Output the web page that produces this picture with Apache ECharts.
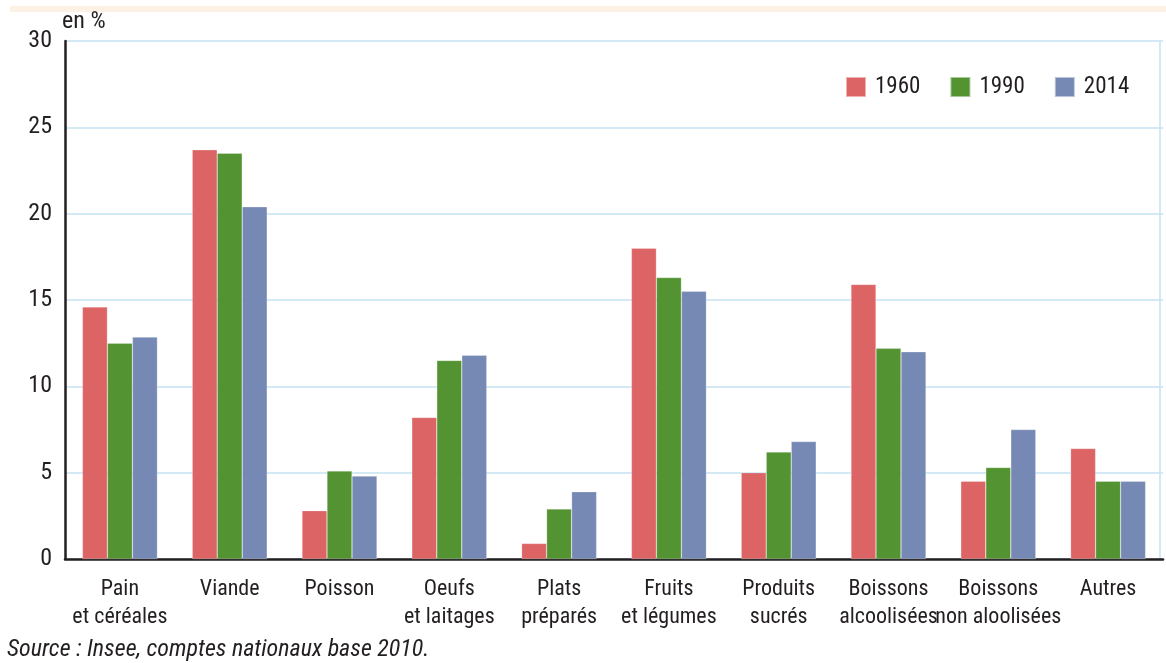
<!DOCTYPE html>
<html><head><meta charset="utf-8">
<script src="https://cdn.jsdelivr.net/npm/echarts@6/dist/echarts.min.js"></script>
<style>html,body{margin:0;padding:0;background:#fff}#c{width:1166px;height:663px}</style>
</head><body><div id="c"></div>
<script>
var categories = ['Pain\net céréales','Viande','Poisson','Oeufs\net laitages','Plats\npréparés','Fruits\net légumes','Produits\nsucrés','Boissons\nalcoolisées','Boissons\nnon aloolisées','Autres'];
var years = ['1960','1990','2014'];
var v1960 = [14.6, 23.7, 2.8, 8.2, 0.9, 18.0, 5.0, 15.9, 4.5, 6.4];
var v1990 = [12.5, 23.5, 5.1, 11.5, 2.9, 16.3, 6.2, 12.2, 5.3, 4.5];
var v2014 = [12.85, 20.4, 4.8, 11.8, 3.9, 15.5, 6.8, 12.0, 7.5, 4.5];
var yTicks = [0,5,10,15,20,25,30];
var colors = ['#dc6465','#539331','#7689b4'];
var FONT = '"Roboto Condensed","Liberation Sans",Arial,sans-serif';
var chart = echarts.init(document.getElementById('c'));
var seriesData = [v1960, v1990, v2014];
chart.setOption({
  animation:false,
  color: colors,
  graphic:[
    {type:'rect', shape:{x:10,y:6,width:1156,height:6}, style:{fill:'#fdf1e6'}},
    {type:'line', shape:{x1:1160,y1:41,x2:1160,y2:559}, style:{stroke:'#c5e3f3',lineWidth:1.5}},
    {type:'text', left:62, top:10, style:{text:'en %', fontSize:24, fontFamily:FONT, fill:'#231f20'}},
    {type:'text', left:7, top:638, style:{text:'Source : Insee, comptes nationaux base 2010.', fontSize:24, fontStyle:'italic', fontFamily:FONT, fill:'#231f20'}}
  ],
  legend:{
    top:69, left:840, itemWidth:20, itemHeight:20, itemGap:29, icon:'rect',
    data: years,
    textStyle:{fontSize:23, lineHeight:26, fontFamily:FONT, color:'#231f20', padding:[0,0,0,4]}
  },
  grid:{left:65, right:3, top:41, bottom:104},
  xAxis:{
    type:'category', data:categories,
    axisLine:{lineStyle:{color:'#231f20', width:2.5}},
    axisTick:{show:false},
    axisLabel:{fontSize:22, fontFamily:FONT, color:'#231f20', lineHeight:28, margin:16, interval:0}
  },
  yAxis:{
    type:'value', min:0, max:30, interval:5,
    axisLine:{show:true, lineStyle:{color:'#231f20', width:2.5}},
    axisTick:{show:false},
    splitLine:{lineStyle:{color:'#c5e3f3', width:1.5}},
    axisLabel:{fontSize:24, fontFamily:FONT, color:'#231f20', margin:13}
  },
  series: years.map(function(y,i){
    return {name:y, type:'bar', data:seriesData[i], barWidth:25, barGap:'0%',
      itemStyle:{color:colors[i], borderColor:'rgba(255,255,255,0.5)', borderWidth:0.5}};
  })
});
</script>
</body></html>
